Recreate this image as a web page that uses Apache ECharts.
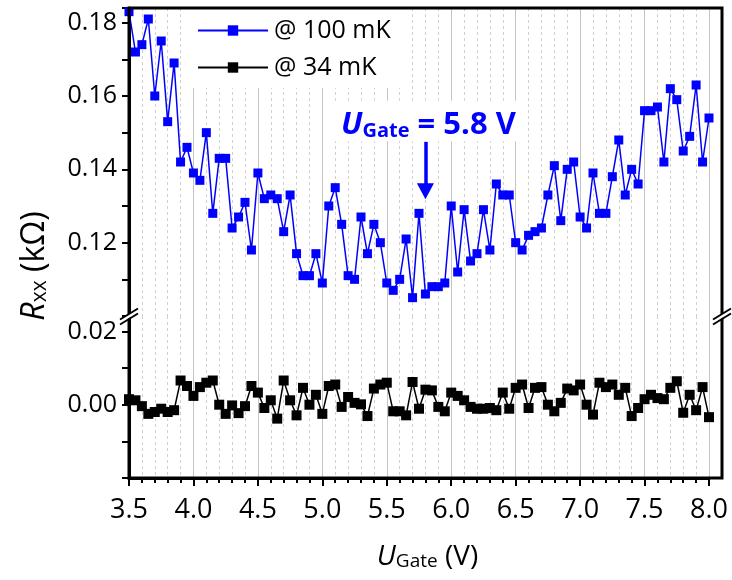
<!DOCTYPE html>
<html>
<head>
<meta charset="utf-8">
<script src="https://cdn.jsdelivr.net/npm/echarts@6/dist/echarts.min.js"></script>
<style>html,body{margin:0;padding:0;background:#fff}#chart{width:732px;height:580px}</style>
</head>
<body>
<div id="chart"></div>
<script>
// ---------------- data ----------------
const gateVoltage = [
  3.50,3.55,3.60,3.65,3.70,3.75,3.80,3.85,3.90,3.95,
  4.00,4.05,4.10,4.15,4.20,4.25,4.30,4.35,4.40,4.45,
  4.50,4.55,4.60,4.65,4.70,4.75,4.80,4.85,4.90,4.95,
  5.00,5.05,5.10,5.15,5.20,5.25,5.30,5.35,5.40,5.45,
  5.50,5.55,5.60,5.65,5.70,5.75,5.80,5.85,5.90,5.95,
  6.00,6.05,6.10,6.15,6.20,6.25,6.30,6.35,6.40,6.45,
  6.50,6.55,6.60,6.65,6.70,6.75,6.80,6.85,6.90,6.95,
  7.00,7.05,7.10,7.15,7.20,7.25,7.30,7.35,7.40,7.45,
  7.50,7.55,7.60,7.65,7.70,7.75,7.80,7.85,7.90,7.95,
  8.00
];
const rxx100mK = [
  0.183,0.172,0.174,0.181,0.160,0.175,0.153,0.169,0.142,0.146,
  0.139,0.137,0.150,0.128,0.143,0.143,0.124,0.127,0.131,0.118,
  0.139,0.132,0.133,0.132,0.123,0.133,0.117,0.111,0.111,0.117,
  0.109,0.130,0.135,0.125,0.111,0.110,0.127,0.117,0.125,0.120,
  0.109,0.107,0.110,0.121,0.105,0.128,0.106,0.108,0.108,0.109,
  0.130,0.112,0.129,0.115,0.117,0.129,0.118,0.136,0.133,0.133,
  0.120,0.118,0.122,0.123,0.124,0.133,0.141,0.126,0.140,0.142,
  0.127,0.124,0.139,0.128,0.128,0.138,0.148,0.133,0.140,0.136,
  0.156,0.156,0.157,0.142,0.162,0.159,0.145,0.149,0.163,0.142,
  0.154
];
const rxx34mK = [
  0.0015,0.0012,-0.0004,-0.0025,-0.0020,-0.0011,-0.0020,-0.0015,0.0066,0.0051,
  0.0024,0.0048,0.0060,0.0066,0.0000,-0.0025,-0.0002,-0.0023,-0.0004,0.0051,
  0.0033,-0.0009,0.0012,-0.0038,0.0066,0.0012,-0.0029,0.0046,0.0000,0.0027,
  -0.0025,0.0051,0.0055,-0.0006,0.0021,0.0005,0.0001,-0.0031,0.0044,0.0055,
  0.0060,-0.0018,-0.0018,-0.0029,0.0062,-0.0011,0.0041,0.0039,-0.0006,-0.0018,
  0.0033,0.0024,0.0012,-0.0006,-0.0011,-0.0011,-0.0009,-0.0015,0.0033,-0.0011,
  0.0046,0.0055,-0.0009,0.0046,0.0048,0.0000,-0.0018,0.0005,0.0044,0.0039,
  0.0055,0.0000,-0.0027,0.0060,0.0048,0.0055,0.0027,0.0046,-0.0031,-0.0009,
  0.0015,0.0027,0.0018,0.0015,0.0046,0.0064,-0.0022,0.0027,-0.0015,0.0048,
  -0.0034
];
const seriesNames = ['@ 100 mK', '@ 34 mK'];
const xTickLabels = ['3.5','4.0','4.5','5.0','5.5','6.0','6.5','7.0','7.5','8.0'];
const yTickLabelsUpper = ['0.12','0.14','0.16','0.18'];
const yTickLabelsLower = ['0.00','0.02'];
const markedGate = 5.8;
const arrowFrom = 0.1475, arrowTo = 0.134;

// ---------------- layout ----------------
const FONT = 'Open Sans';
const L = 129;            // left of plot
const DATA_R = 709;       // pixel of x = 8.0
const FRAME_R = 722;      // right frame
const TOP = 8, BREAK_Y = 316, BOTTOM = 478;
const BLUE = '#0000ff';

const pick = (list) => (v) => {
  const hit = list.find(t => Math.abs(parseFloat(t) - v) < 1e-6);
  return hit === undefined ? '' : hit;
};

const splitMajor = { show: true, lineStyle: { color: '#c4c4c4', width: 1 } };
const splitMinor = { show: true, lineStyle: { color: '#d0d0d0', width: 1, type: [3, 3] } };
const axisLineStyle = { show: true, onZero: false, lineStyle: { color: '#000', width: 3 } };

const chart = echarts.init(document.getElementById('chart'), null, { renderer: 'canvas' });

const option = {
  animation: false,
  backgroundColor: '#fff',
  grid: [
    { left: L, width: DATA_R - L, top: TOP, height: BREAK_Y - TOP, outerBoundsMode: 'none' },
    { left: L, width: DATA_R - L, top: BREAK_Y, height: BOTTOM - BREAK_Y, outerBoundsMode: 'none' }
  ],
  xAxis: [
    { gridIndex: 0, type: 'value', min: 3.5, max: 8.0, interval: 0.5, position: 'bottom',
      axisLine: { show: false, onZero: false }, axisTick: { show: false }, axisLabel: { show: false },
      minorTick: { show: false, splitNumber: 5 },
      splitLine: splitMajor, minorSplitLine: splitMinor },
    { gridIndex: 1, type: 'value', min: 3.5, max: 8.0, interval: 0.5, position: 'bottom',
      axisLine: axisLineStyle,
      axisTick: { show: true, inside: false, length: 8, lineStyle: { color: '#000', width: 2 } },
      minorTick: { show: true, splitNumber: 5, length: 5, lineStyle: { color: '#000', width: 2 } },
      axisLabel: { show: true, margin: 19, color: '#000', fontFamily: FONT, fontSize: 27,
        formatter: pick(xTickLabels) },
      splitLine: splitMajor, minorSplitLine: splitMinor }
  ],
  yAxis: [
    { gridIndex: 0, type: 'value', min: 0.10, max: 0.184, interval: 0.01, position: 'left',
      axisLine: axisLineStyle,
      axisTick: { show: true, inside: false, length: 7, lineStyle: { color: '#000', width: 2 } },
      axisLabel: { show: true, margin: 12, color: '#000', fontFamily: FONT, fontSize: 25,
        formatter: pick(yTickLabelsUpper) },
      splitLine: { show: false } },
    { gridIndex: 1, type: 'value', min: -0.02, max: 0.0242, interval: 0.01, position: 'left',
      axisLine: axisLineStyle,
      axisTick: { show: true, inside: false, length: 7, lineStyle: { color: '#000', width: 2 } },
      axisLabel: { show: true, margin: 12, color: '#000', fontFamily: FONT, fontSize: 25,
        formatter: pick(yTickLabelsLower) },
      splitLine: { show: false } }
  ],
  legend: {
    orient: 'vertical', left: 190, top: 8,
    backgroundColor: '#fff',
    padding: [10, 12, 8, 7],
    itemWidth: 70, itemHeight: 13, itemGap: 12,
    selectedMode: false,
    textStyle: { fontFamily: FONT, fontSize: 25, color: '#000', padding: [0, 0, 0, 1] },
    data: seriesNames
  },
  series: [
    { name: seriesNames[0], type: 'line', xAxisIndex: 0, yAxisIndex: 0, clip: false,
      data: gateVoltage.map((v, i) => [v, rxx100mK[i]]),
      symbol: 'rect', symbolSize: 9,
      itemStyle: { color: BLUE }, lineStyle: { color: BLUE, width: 1.5 },
      markLine: {
        silent: true, symbol: ['none', 'triangle'], symbolSize: [17, 16],
        label: { show: false },
        lineStyle: { color: BLUE, width: 3.5, type: 'solid' },
        data: [[{ coord: [markedGate, arrowFrom] }, { coord: [markedGate, arrowTo] }]]
      } },
    { name: seriesNames[1], type: 'line', xAxisIndex: 1, yAxisIndex: 1, clip: false,
      data: gateVoltage.map((v, i) => [v, rxx34mK[i]]),
      symbol: 'rect', symbolSize: 10,
      itemStyle: { color: '#000' }, lineStyle: { color: '#000', width: 1.5 } }
  ]
};
chart.setOption(option);

// ---------------- frame / annotations / titles / axis breaks ----------------
function breakMark(x, y) {
  return [
    { type: 'polygon', z: 102, shape: { points: [[x - 8, y + 5], [x + 8, y - 5], [x + 8, y - 1], [x - 8, y + 9]] },
      style: { fill: '#fff' } },
    { type: 'line', z: 103, shape: { x1: x - 9, y1: y + 5.5, x2: x + 9, y2: y - 5.5 }, style: { stroke: '#000', lineWidth: 2 } },
    { type: 'line', z: 103, shape: { x1: x - 9, y1: y + 10.5, x2: x + 9, y2: y - 0.5 }, style: { stroke: '#000', lineWidth: 2 } }
  ];
}

const annX = chart.convertToPixel({ xAxisIndex: 0, yAxisIndex: 0 }, [markedGate, arrowFrom]);

function richTitle(main, sub, rest, size, subSize, extra) {
  return {
    text: '{u|' + main + '}{g|' + sub + '}{m|' + rest + '}',
    align: 'center', verticalAlign: 'middle',
    rich: {
      u: Object.assign({ fontFamily: FONT, fontSize: size, fontStyle: 'italic', lineHeight: size * 1.3, verticalAlign: 'bottom' }, extra),
      g: Object.assign({ fontFamily: FONT, fontSize: subSize, lineHeight: subSize * 0.65, verticalAlign: 'bottom' }, extra),
      m: Object.assign({ fontFamily: FONT, fontSize: size, lineHeight: size * 1.3, verticalAlign: 'bottom' }, extra)
    }
  };
}

const annStyle = richTitle('U', 'Gate', ' = 5.8 V', 31, 20, { fontWeight: 'bold', fill: BLUE, color: BLUE });
annStyle.backgroundColor = '#fff';
annStyle.padding = [0, 6, 0, 6];

chart.setOption({
  graphic: [
    { type: 'rect', z: 101, shape: { x: L, y: TOP, width: FRAME_R - L, height: BOTTOM - TOP },
      style: { fill: 'none', stroke: '#000', lineWidth: 3 } },
    ...breakMark(L, BREAK_Y - 2),
    ...breakMark(FRAME_R, BREAK_Y - 2),
    { type: 'text', z: 100, x: annX[0] + 3, y: 121, style: annStyle },
    { type: 'text', z: 100, x: (L + FRAME_R) / 2 + 2, y: 553,
      style: richTitle('U', 'Gate', ' (V)', 28, 19, { fill: '#000', color: '#000' }) },
    { type: 'text', z: 100, x: 30, y: 266, rotation: Math.PI / 2,
      style: richTitle('R', 'xx', ' (kΩ)', 32, 21, { fill: '#000', color: '#000' }) }
  ]
});
</script>
</body>
</html>
